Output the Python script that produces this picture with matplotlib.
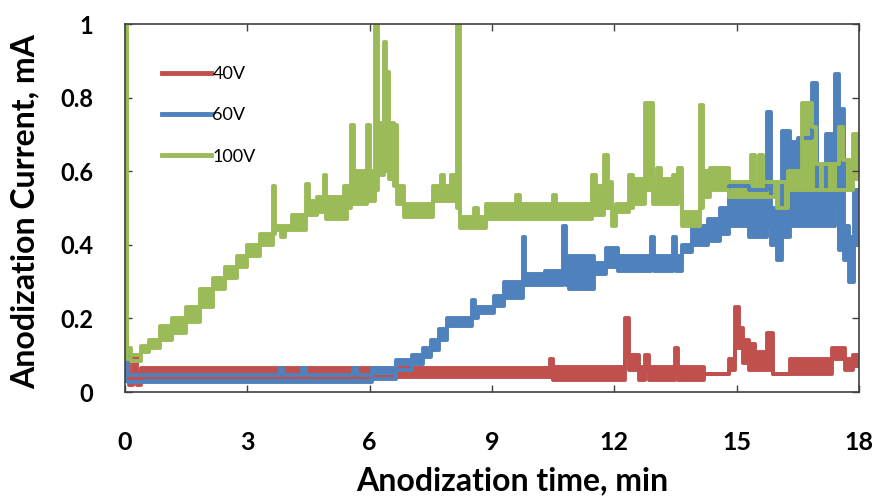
import numpy as np
import matplotlib
matplotlib.use("Agg")
import matplotlib.pyplot as plt
from matplotlib.lines import Line2D

# step data: time (min), upper and lower edge of the noisy trace (mA)
t_40 = [0.0, 0.1, 0.2, 0.3, 0.4, 10.42, 10.5, 12.25, 12.35, 12.6, 12.75, 12.85, 13.48, 13.56,
        14.2, 14.8, 14.95, 15.05, 15.15, 15.3, 15.45, 15.75, 15.88, 16.3, 17.35, 17.65, 17.85, 18.0]
hi_40 = [0.08, 0.05, 0.10, 0.05, 0.065, 0.09, 0.068, 0.20, 0.10, 0.068, 0.10, 0.068, 0.12, 0.068,
         0.05, 0.09, 0.23, 0.175, 0.14, 0.13, 0.11, 0.16, 0.05, 0.09, 0.12, 0.09, 0.10, 0.10]
lo_40 = [0.05, 0.02, 0.05, 0.02, 0.04, 0.04, 0.033, 0.10, 0.06, 0.033, 0.06, 0.033, 0.06, 0.033,
         0.05, 0.06, 0.12, 0.12, 0.08, 0.06, 0.06, 0.06, 0.05, 0.05, 0.09, 0.06, 0.07, 0.07]

t_60 = [0.0, 0.08, 3.8, 3.88, 4.35, 4.43, 5.6, 5.68, 6.05, 6.65,
        7.05, 7.3, 7.5, 7.7, 7.9, 8.5, 8.58, 8.65, 9.05, 9.3,
        9.75, 9.82, 10.3, 10.75, 10.82, 10.9, 11.5, 11.8, 12.1, 12.9,
        12.97, 13.45, 13.52, 13.65, 13.9, 14.3, 14.6, 14.8, 15.3, 15.75,
        15.85, 16.0, 16.1, 16.3, 16.5, 16.85, 16.97, 17.2, 17.4, 17.5,
        17.55, 17.62, 17.75, 17.87, 18.0]
hi_60 = [0.11, 0.045, 0.065, 0.045, 0.065, 0.045, 0.065, 0.045, 0.065, 0.087,
         0.10, 0.12, 0.14, 0.17, 0.20, 0.25, 0.225, 0.23, 0.26, 0.30,
         0.42, 0.32, 0.33, 0.45, 0.33, 0.37, 0.35, 0.39, 0.37, 0.42,
         0.37, 0.42, 0.37, 0.40, 0.45, 0.47, 0.50, 0.56, 0.55, 0.76,
         0.50, 0.50, 0.71, 0.68, 0.69, 0.84, 0.55, 0.70, 0.865, 0.44,
         0.77, 0.45, 0.42, 0.55, 0.55]
lo_60 = [0.03, 0.027, 0.027, 0.027, 0.027, 0.027, 0.027, 0.027, 0.035, 0.06,
         0.075, 0.095, 0.115, 0.14, 0.18, 0.20, 0.20, 0.215, 0.235, 0.255,
         0.29, 0.29, 0.29, 0.30, 0.29, 0.28, 0.32, 0.34, 0.33, 0.34,
         0.33, 0.34, 0.33, 0.38, 0.40, 0.41, 0.43, 0.45, 0.42, 0.45,
         0.40, 0.36, 0.42, 0.45, 0.45, 0.45, 0.45, 0.45, 0.50, 0.385,
         0.40, 0.36, 0.30, 0.40, 0.40]

t_100 = [0.0, 0.04, 0.15, 0.4, 0.6, 0.85, 1.15, 1.5, 1.84, 2.17,
         2.45, 2.75, 3.0, 3.3, 3.62, 3.68, 3.82, 3.92, 4.1, 4.45,
         4.52, 4.7, 4.87, 4.93, 5.38, 5.45, 5.55, 5.62, 5.93, 6.0,
         6.12, 6.2, 6.35, 6.4, 6.47, 6.6, 6.68, 6.85, 7.55, 7.75,
         7.82, 8.0, 8.15, 8.22, 8.55, 8.65, 8.85, 9.6, 9.68, 10.5,
         10.58, 11.45, 11.55, 11.75, 11.85, 11.95, 12.05, 12.35, 12.45, 12.75,
         12.95, 13.05, 13.15, 13.45, 13.55, 13.65, 14.1, 14.18, 14.35, 14.8,
         15.35, 15.45, 15.55, 15.65, 16.0, 16.25, 16.6, 16.85, 16.95, 17.5,
         17.6, 17.85, 18.0]
hi_100 = [1.0, 0.12, 0.10, 0.125, 0.14, 0.18, 0.20, 0.23, 0.28, 0.31,
          0.34, 0.37, 0.40, 0.43, 0.56, 0.45, 0.45, 0.45, 0.48, 0.565,
          0.52, 0.53, 0.59, 0.53, 0.56, 0.56, 0.725, 0.60, 0.725, 0.60,
          1.0, 0.73, 0.95, 0.87, 0.73, 0.725, 0.56, 0.51, 0.56, 0.59,
          0.56, 0.59, 1.0, 0.475, 0.50, 0.475, 0.51, 0.535, 0.51, 0.535,
          0.51, 0.59, 0.56, 0.645, 0.57, 0.50, 0.51, 0.59, 0.58, 0.785,
          0.58, 0.61, 0.58, 0.59, 0.61, 0.49, 0.78, 0.60, 0.61, 0.57,
          0.645, 0.57, 0.645, 0.57, 0.57, 0.60, 0.785, 0.72, 0.62, 0.72,
          0.63, 0.70, 0.70]
lo_100 = [0.15, 0.09, 0.085, 0.11, 0.12, 0.14, 0.16, 0.19, 0.23, 0.28,
          0.31, 0.34, 0.37, 0.40, 0.43, 0.44, 0.42, 0.44, 0.44, 0.48,
          0.48, 0.49, 0.49, 0.47, 0.47, 0.50, 0.51, 0.51, 0.52, 0.52,
          0.55, 0.59, 0.62, 0.60, 0.58, 0.56, 0.51, 0.475, 0.52, 0.52,
          0.52, 0.52, 0.50, 0.445, 0.445, 0.445, 0.47, 0.47, 0.47, 0.47,
          0.47, 0.48, 0.48, 0.50, 0.50, 0.45, 0.49, 0.50, 0.51, 0.55,
          0.51, 0.51, 0.51, 0.51, 0.53, 0.45, 0.50, 0.53, 0.55, 0.53,
          0.53, 0.53, 0.53, 0.53, 0.50, 0.55, 0.55, 0.55, 0.55, 0.55,
          0.55, 0.58, 0.58]

labels = ["40V", "60V", "100V"]
colors = ["#C0504D", "#4F81BD", "#9BBB59"]
xticks = [0, 3, 6, 9, 12, 15, 18]
yticks = [0, 0.2, 0.4, 0.6, 0.8, 1.0]
ytick_labels = ["0", "0.2", "0.4", "0.6", "0.8", "1"]

series = [(t_40, hi_40, lo_40), (t_60, hi_60, lo_60), (t_100, hi_100, lo_100)]

fig = plt.figure(figsize=(8.78, 4.98), dpi=100)
ax = fig.add_axes([125 / 878, 106 / 498, 734 / 878, 368 / 498])

handles = []
for (t, hi, lo), lab, c in zip(series, labels, colors):
    ax.fill_between(t, lo, hi, step="post", color=c, lw=0)
    ax.step(t, hi, where="post", color=c, lw=2.8)
    ax.step(t, lo, where="post", color=c, lw=2.8)
    handles.append(Line2D([], [], color=c, lw=3.5, label=lab))

ax.set_xlim(0, 18)
ax.set_ylim(0, 1)

spine_c = "#404040"
for s in ax.spines.values():
    s.set_color(spine_c)
    s.set_linewidth(1.2)

ax.tick_params(direction="in", top=True, right=True, length=5, width=1, color=spine_c)
ax.tick_params(axis="x", pad=28)
ax.tick_params(axis="y", pad=23)
ax.set_xticks(xticks, labels=[str(x) for x in xticks],
              fontfamily="Lato", fontweight="bold", fontsize=18)
ax.set_yticks(yticks, labels=ytick_labels, fontfamily="Lato", fontweight="bold", fontsize=17)

ax.set_xlabel("Anodization time, min", fontfamily="Lato", fontweight="bold", fontsize=23, va="center")
ax.xaxis.set_label_coords(0.527, -0.242)
ax.set_ylabel("Anodization Current, mA", fontfamily="Lato", fontweight="bold", fontsize=23, va="center")
ax.yaxis.set_label_coords(-0.136, 0.49)

leg = ax.legend(handles=handles, loc="upper left", bbox_to_anchor=(0.028, 0.93), frameon=False,
                handlelength=2.7, handletextpad=0.1, labelspacing=1.4,
                prop={"family": "Lato", "size": 13})

fig.savefig("out.png", dpi=100)
